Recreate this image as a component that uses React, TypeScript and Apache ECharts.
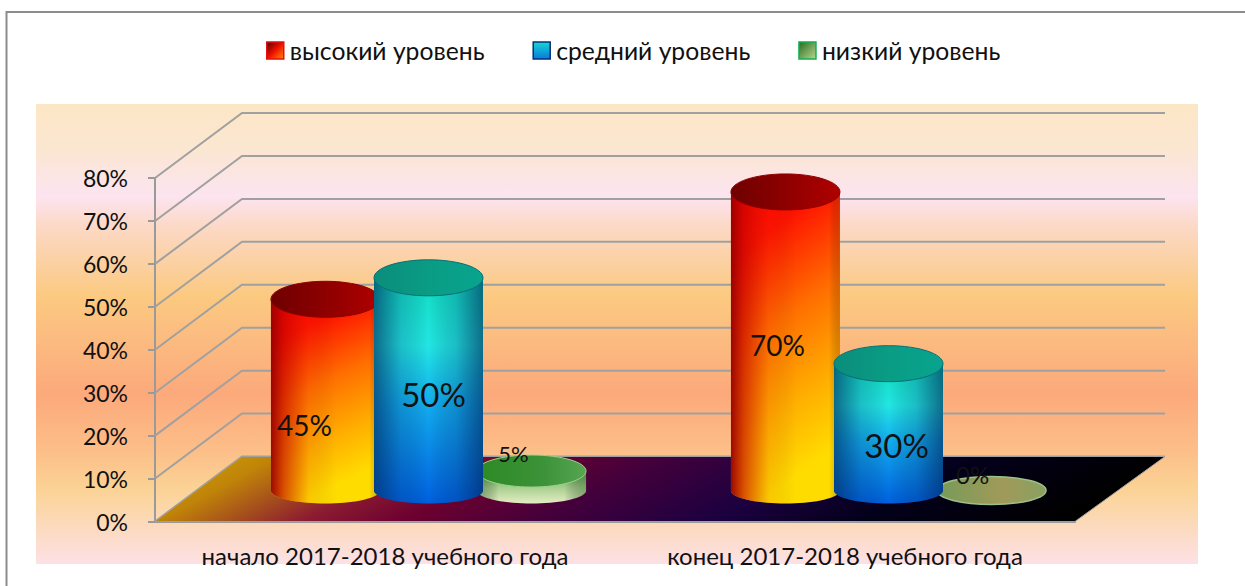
import React, { useEffect, useRef } from "react";
import * as echarts from "echarts";

const categories = ["начало 2017-2018 учебного года", "конец 2017-2018 учебного года"];
const highLevel = [45, 70];
const midLevel = [50, 30];
const lowLevel = [5, 0];
const gridValues = [0, 10, 20, 30, 40, 50, 60, 70, 80];
const seriesNames = ["высокий уровень", "средний уровень", "низкий уровень"];

const FONT = "Lato, 'Open Sans', sans-serif";
const DX = 87, DY = 65;
const LG = echarts.graphic.LinearGradient;

const linear = (x: number, y: number, x2: number, y2: number, stops: [number, string][]) =>
  new LG(x, y, x2, y2, stops.map(([offset, color]) => ({ offset, color })));

const labelStyles: Record<string, { dx: number; dy: number; size: number }[]> = {
  high: [{ dx: -21, dy: 97, size: 28 }, { dx: -8, dy: 124, size: 28 }],
  mid: [{ dx: 5, dy: 87, size: 33 }, { dx: 8, dy: 52, size: 33 }],
  low: [{ dx: -18, dy: -47, size: 22 }, { dx: -19, dy: -47, size: 24 }],
};

const looks: any = {
  high: {
    side: () => linear(0, 0, 0.25, 1, [[0, "#ff0000"], [0.2, "#ff1400"], [0.5, "#ff7000"], [0.78, "#ffb000"], [1, "#ffdc00"]]),
    shade: () => linear(0, 0, 1, 0, [[0, "rgba(150,0,0,0.95)"], [0.12, "rgba(190,0,0,0.6)"], [0.35, "rgba(200,20,0,0.1)"], [0.6, "rgba(0,0,0,0)"], [0.9, "rgba(0,0,0,0)"], [1, "rgba(130,50,0,0.3)"]]),
    top: () => linear(0, 0, 1, 0, [[0, "#6e0000"], [0.5, "#8e0000"], [1, "#b00000"]]),
    stroke: "#900000",
  },
  mid: {
    side: () => linear(0, 0, 0, 1, [[0, "#10dcc0"], [0.3, "#22e6e4"], [0.55, "#12aef0"], [1, "#0060e0"]]),
    shade: () => linear(0, 0, 1, 0, [[0, "rgba(0,40,90,0.65)"], [0.25, "rgba(0,40,90,0.2)"], [0.5, "rgba(0,0,0,0)"], [0.75, "rgba(0,30,80,0.2)"], [1, "rgba(0,30,80,0.6)"]]),
    top: () => linear(0, 0, 1, 0, [[0, "#0a8d7c"], [0.5, "#0a9c84"], [1, "#08a48e"]]),
    stroke: "#077078",
  },
  low: {
    side: () => linear(0, 0, 0, 1, [[0, "#4d9a4e"], [0.5, "#a7cf8e"], [1, "#e4ecc4"]]),
    shade: () => linear(0, 0, 1, 0, [[0, "rgba(60,110,50,0.5)"], [0.2, "rgba(0,0,0,0)"], [0.8, "rgba(0,0,0,0)"], [1, "rgba(60,110,50,0.45)"]]),
    top: () => linear(0, 0, 1, 0, [[0, "#2c8a24"], [0.6, "#3c9238"], [1, "#57a552"]]),
    stroke: "#9fd08a",
  },
};

const cylinderSeries = (name: string, key: string, values: number[], offset: number, z: number) => ({
  type: "custom",
  name,
  z,
  clip: false,
  silent: true,
  data: values.map((v, i) => [i, v]),
  renderItem: (_: any, api: any) => {
    const idx = api.value(0);
    const v = api.value(1);
    const band = api.size([1, 0])[0];
    const cx = api.coord([idx, v])[0] + DX / 2 + offset * band;
    const topY = api.coord([idx, v])[1] - 29;
    const baseY = api.coord([idx, 0])[1] - 31;
    const rx = 54.5, rb = 13;
    const rt = v === 0 ? 14 : v < 10 ? 16 : 18;
    const look = looks[key];
    const ls = labelStyles[key][idx];
    const children: any[] = [];
    if (v > 0) {
      const points: number[][] = [[cx - rx, topY], [cx + rx, topY]];
      for (let a = 0; a <= 36; a++) {
        const t = (a / 36) * Math.PI;
        points.push([cx + rx * Math.cos(t), baseY + rb * Math.sin(t)]);
      }
      children.push({ type: "polygon", shape: { points }, style: { fill: look.side() } });
      children.push({ type: "polygon", shape: { points }, style: { fill: look.shade() } });
      children.push({
        type: "ellipse",
        shape: { cx, cy: topY, rx, ry: rt },
        style: { fill: look.top(), stroke: look.stroke, lineWidth: 1 },
      });
    } else {
      children.push({
        type: "ellipse",
        shape: { cx, cy: baseY, rx, ry: rt },
        style: { fill: linear(0, 0, 1, 0, [[0, "#789a58"], [0.6, "#a09a5a"], [1, "#8aa060"]]), stroke: "#9cc08a", lineWidth: 1.5 },
      });
    }
    children.push({
      type: "text",
      x: cx + ls.dx,
      y: api.coord([idx, v])[1] + ls.dy,
      style: {
        text: v + "%",
        fill: "#111",
        font: `${ls.size}px ${FONT}`,
        align: "center",
        verticalAlign: "middle",
      },
      z2: 50,
    });
    return { type: "group", children };
  },
});

export default function App() {
  const ref = useRef<HTMLDivElement>(null);
  useEffect(() => {
    const chart = echarts.init(ref.current!, null, { renderer: "svg" });
    chart.setOption({
      animation: false,
      backgroundColor: "#fff",
      textStyle: { fontFamily: FONT },
      graphic: [
        { type: "polyline", z: -2, shape: { points: [[6.5, 586], [6.5, 12], [1245, 12]] }, style: { fill: "none", stroke: "#8c8c8c", lineWidth: 2 } },
        {
          type: "rect",
          z: -1,
          shape: { x: 36, y: 104, width: 1162, height: 460 },
          style: {
            fill: linear(0, 0, 0, 1, [
              [0, "#fbe7c6"], [0.1, "#fbe6d2"], [0.2, "#fce4f0"], [0.27, "#fcd8c4"], [0.42, "#fbc980"],
              [0.5, "#fbbd80"], [0.63, "#fca97b"], [0.75, "#fcbe88"], [0.84, "#fbd396"], [1, "#fde1e6"],
            ]),
          },
        },
      ],
      legend: {
        left: 261,
        top: 33,
        itemWidth: 17,
        itemHeight: 17,
        itemGap: 48,
        icon: "rect",
        selectedMode: false,
        textStyle: { fontSize: 24.7, color: "#111", fontFamily: FONT, padding: [0, 0, 0, 1] },
        data: [
          { name: seriesNames[0], itemStyle: { color: linear(0, 0, 1, 1, [[0, "#500000"], [0.5, "#f01000"], [1, "#ff9000"]]), borderColor: "#e01010", borderWidth: 1.5 } },
          { name: seriesNames[1], itemStyle: { color: linear(0, 0, 0, 1, [[0, "#14d8d0"], [1, "#0a78e0"]]), borderColor: "#0a2c78", borderWidth: 1.5 } },
          { name: seriesNames[2], itemStyle: { color: linear(0, 0, 1, 1, [[0, "#2a6a20"], [1, "#b8d890"]]), borderColor: "#10b050", borderWidth: 1.5 } },
        ],
      },
      grid: { left: 155, right: 170, top: 178, bottom: 64.5 },
      xAxis: {
        type: "category",
        data: categories,
        axisLine: { lineStyle: { color: "#9a9a9a", width: 2 } },
        axisTick: { length: 6, lineStyle: { color: "#9a9a9a", width: 2 } },
        axisLabel: { fontSize: 24, color: "#111", margin: 22, fontFamily: FONT, interval: 0, hideOverlap: false },
      },
      yAxis: {
        type: "value",
        min: 0,
        max: 80,
        interval: 10,
        splitLine: { show: false },
        axisLine: { show: true, lineStyle: { color: "#9a9a9a", width: 2 } },
        axisTick: { show: true, length: 7, lineStyle: { color: "#9a9a9a", width: 2 } },
        axisLabel: { fontSize: 23, color: "#111", margin: 27, formatter: "{value}%", fontFamily: FONT },
      },
      series: [
        {
          type: "custom",
          z: 1,
          clip: false,
          silent: true,
          data: gridValues.map((v) => [0, v]),
          renderItem: (_: any, api: any) => {
            const band = api.size([1, 0])[0];
            const v = api.value(1);
            const [cx, y] = api.coord([0, v]);
            const left = cx - band / 2;
            return {
              type: "polyline",
              shape: { points: [[left, y], [left + DX, y - DY], [left + 2 * band + DX + 3, y - DY]] },
              style: { fill: "none", stroke: "#a0a0a0", lineWidth: 2 },
            };
          },
        },
        {
          type: "custom",
          z: 1.5,
          clip: false,
          silent: true,
          data: [[0, 0]],
          renderItem: (_: any, api: any) => {
            const band = api.size([1, 0])[0];
            const [cx, y] = api.coord([0, 0]);
            const left = cx - band / 2;
            return {
              type: "polygon",
              shape: { points: [[left, y], [left + DX, y - DY], [left + 2 * band + DX + 3, y - DY], [left + 2 * band, y]] },
              style: {
                fill: linear(0, 0, 1, 0.12, [
                  [0, "#d0a808"], [0.12, "#c08408"], [0.26, "#8c1c30"], [0.36, "#6c0030"], [0.5, "#42003c"],
                  [0.66, "#1c0040"], [0.8, "#04001c"], [1, "#000000"],
                ]),
                stroke: "#a0a0a0",
                lineWidth: 1,
              },
            };
          },
        },
        cylinderSeries(seriesNames[2], "low", lowLevel, 0.224, 2),
        cylinderSeries(seriesNames[0], "high", highLevel, -0.224, 3),
        cylinderSeries(seriesNames[1], "mid", midLevel, 0, 4),
      ],
    });
    return () => chart.dispose();
  }, []);
  return <div ref={ref} style={{ position: "absolute", left: 0, top: 0, width: 1245, height: 586 }} />;
}
